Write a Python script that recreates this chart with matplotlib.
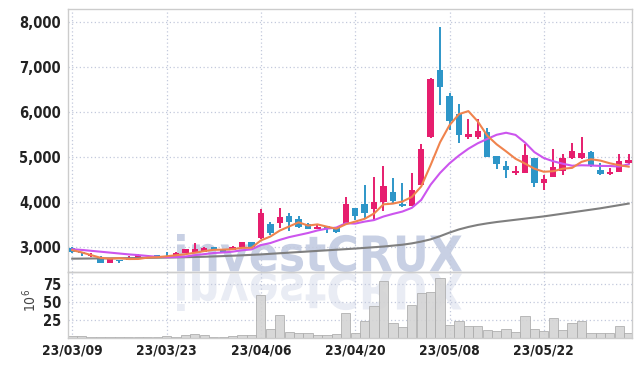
import numpy as np
import matplotlib
matplotlib.use('Agg')
import matplotlib.pyplot as plt
from matplotlib.ticker import FuncFormatter
from matplotlib.textpath import TextPath
from matplotlib.patches import PathPatch
from matplotlib.font_manager import FontProperties
from matplotlib.transforms import Affine2D, IdentityTransform

plt.rcParams['font.family'] = ['DejaVu Sans']
plt.rcParams['font.stretch'] = 'condensed'

# daily candles, 60 trading days
dates = ['23/03/09', '23/03/23', '23/04/06', '23/04/20', '23/05/08', '23/05/22']
date_idx = [0, 10, 20, 30, 40, 50]

opens = [2980, 2870, 2810, 2780, 2650, 2720, 2710, 2760, 2810, 2810,
         2800, 2820, 2870, 2880, 2880, 3000, 2930, 2930, 2990, 3100,
         3190, 3510, 3540, 3690, 3620, 3500, 3390, 3460, 3450, 3500,
         3860, 3950, 3840, 4000, 4230, 3955, 3910, 4380, 5440, 6930,
         6350, 5950, 5440, 5440, 5550, 5020, 4800, 4650, 4650, 4970,
         4430, 4550, 4690, 4970, 4970, 5110, 4720, 4620, 4670, 4860]
highs = [2990, 2880, 2870, 2790, 2760, 2720, 2800, 2840, 2820, 2820,
         2880, 2880, 2960, 3080, 3000, 3010, 2940, 3030, 3120, 3110,
         3840, 3560, 3870, 3750, 3690, 3540, 3480, 3470, 3450, 4120,
         3870, 4380, 4560, 4800, 4540, 4430, 4650, 5290, 6750, 7880,
         6425, 6170, 5835, 5835, 5635, 5030, 4920, 4800, 5290, 4980,
         4600, 5170, 5065, 5316, 5450, 5130, 4860, 4760, 5065, 5065]
lows = [2860, 2800, 2780, 2640, 2650, 2650, 2710, 2760, 2760, 2780,
        2760, 2820, 2870, 2880, 2880, 2930, 2880, 2930, 2990, 2990,
        3180, 3260, 3430, 3355, 3420, 3390, 3390, 3310, 3300, 3500,
        3600, 3630, 3600, 3800, 3960, 3890, 3900, 4380, 5430, 6150,
        5600, 5315, 5400, 5400, 4990, 4725, 4540, 4590, 4650, 4340,
        4265, 4550, 4600, 4960, 4960, 4780, 4600, 4610, 4660, 4840]
closes = [2880, 2860, 2820, 2640, 2760, 2680, 2760, 2830, 2790, 2800,
          2790, 2870, 2950, 2950, 2985, 2930, 2890, 3000, 3100, 2990,
          3750, 3320, 3660, 3560, 3450, 3390, 3450, 3410, 3330, 3950,
          3680, 3760, 4000, 4350, 4030, 3910, 4265, 5170, 6730, 6560,
          5810, 5490, 5510, 5575, 4990, 4840, 4710, 4690, 5040, 4420,
          4500, 4770, 4970, 5130, 5090, 4790, 4620, 4670, 4915, 4930]

ma5 = [2930, 2880, 2820, 2760, 2740, 2752, 2732, 2734, 2764, 2772,
       2794, 2816, 2840, 2872, 2909, 2937, 2941, 2951, 2981, 2982,
       3146, 3232, 3364, 3456, 3548, 3476, 3502, 3452, 3406, 3506,
       3564, 3626, 3744, 3948, 3964, 4010, 4111, 4345, 4821, 5327,
       5707, 5952, 6020, 5789, 5475, 5281, 5125, 4961, 4854, 4740,
       4672, 4684, 4740, 4758, 4892, 4950, 4920, 4860, 4817, 4785]
ma10 = [2950, 2935, 2915, 2895, 2875, 2855, 2835, 2820, 2800, 2782,
        2773, 2774, 2787, 2818, 2841, 2866, 2879, 2896, 2927, 2946,
        3042, 3087, 3158, 3219, 3265, 3311, 3367, 3408, 3431, 3527,
        3520, 3564, 3598, 3677, 3735, 3787, 3869, 4045, 4385, 4646,
        4859, 5032, 5183, 5305, 5401, 5494, 5539, 5491, 5322, 5108,
        4977, 4905, 4851, 4806, 4816, 4811, 4802, 4800, 4788, 4839]
ma60 = [2740, 2742, 2744, 2746, 2748, 2750, 2752, 2755, 2758, 2761,
        2765, 2769, 2773, 2778, 2783, 2790, 2798, 2806, 2815, 2825,
        2835, 2848, 2861, 2874, 2887, 2900, 2913, 2926, 2939, 2952,
        2965, 2980, 2995, 3010, 3030, 3050, 3080, 3120, 3170, 3240,
        3320, 3390, 3445, 3490, 3525, 3555, 3580, 3605, 3630, 3655,
        3680, 3710, 3740, 3770, 3800, 3830, 3860, 3895, 3930, 3965]

volume = [1.5, 1.5, 0.5, 0.5, 0.5, 0.5, 0.5, 0.5, 0.5, 0.5,
          1.5, 0.5, 4, 5.5, 3, 1, 1, 2, 3.5, 3.5,
          60, 12, 31, 7.5, 7, 7, 3, 3, 4.5, 34,
          6.5, 23, 43.6, 79, 21, 14.4, 46, 63, 64, 84,
          17.6, 22.7, 15.8, 15.8, 10.7, 8.8, 11.6, 7.5, 29.7, 11.6,
          8.8, 27, 10.2, 21, 22.7, 6, 6, 6, 15.8, 6]

UP = '#e61e6e'
DOWN = '#2e96c8'
GRID = '#c3c9dc'

W, H = 642, 366
fig = plt.figure(figsize=(W / 100, H / 100), dpi=100)
fig.patch.set_facecolor('white')
ax = fig.add_axes([68 / W, (H - 272) / H, 564 / W, 263 / H])
axv = fig.add_axes([68 / W, (H - 337.5) / H, 564 / W, 65.5 / H], sharex=ax)
for a in (ax, axv):
    a.set_facecolor('none')

# watermark + its reflection, placed in pixel coordinates
fp = FontProperties(family='DejaVu Sans', weight='bold', stretch='condensed')
tp = TextPath((0, 0), 'investCRUX', size=100, prop=fp)
ext = tp.get_extents()
sx = (462 - 177) / ext.width
sy = (272 - 234) / ext.height
t_main = (Affine2D().translate(-ext.x0, -ext.y0).scale(sx, sy)
          .translate(177, H - 272) + IdentityTransform())
t_refl = (Affine2D().translate(-ext.x0, -ext.y0).scale(sx, -sy)
          .translate(177, H - 273) + IdentityTransform())
fig.patches.append(PathPatch(tp, transform=t_main, facecolor='#c8d0e4',
                             edgecolor='none', zorder=-1))
fig.patches.append(PathPatch(tp, transform=t_refl, facecolor='#e9ecf4',
                             edgecolor='none', zorder=-1))

x = np.arange(len(closes))
o = np.array(opens)
c = np.array(closes)
colors = [UP if cc >= oo else DOWN for oo, cc in zip(o, c)]
body_lo = np.minimum(o, c)
body_h = np.maximum(np.abs(c - o), 18)

ax.vlines(x, lows, highs, colors=colors, linewidth=1.4, zorder=2)
ax.bar(x, body_h, bottom=body_lo, width=0.68, color=colors, zorder=3)

ax.plot(x, ma60, color='#7f7f7f', linewidth=1.5, zorder=4)
ax.plot(x, ma10, color='#cc55ee', linewidth=1.5, zorder=4)
ax.plot(x, ma5, color='#f0834d', linewidth=1.5, zorder=5)

axv.bar(x, volume, width=0.98, color='#d4d4d4', edgecolor='#aaaaaa',
        linewidth=0.6, alpha=0.9, zorder=2)

ax.set_xlim(-0.45, 59.35)
ax.set_ylim(2444, 8289)
axv.set_ylim(0, 92)

ax.set_yticks([3000, 4000, 5000, 6000, 7000, 8000])
ax.yaxis.set_major_formatter(FuncFormatter(lambda v, p: f'{int(v):,}'))
axv.set_yticks([25, 50, 75])
axv.set_xticks(date_idx)
axv.set_xticklabels(dates)
ax.tick_params(axis='x', labelbottom=False)

for a in (ax, axv):
    a.grid(True, color=GRID, linestyle=(0, (1, 2)), linewidth=0.9)
    a.set_axisbelow(True)
    a.tick_params(length=0, labelsize=10.5, colors='#222222', pad=5)
    for lab in a.get_xticklabels() + a.get_yticklabels():
        lab.set_fontweight('bold')
    for s in a.spines.values():
        s.set_color('#cccccc')
        s.set_linewidth(1)
axv.tick_params(axis='x', labelsize=9.8, pad=4)

fig.text(30 / W, 1 - 300 / H, r'$10^6$', rotation=90, ha='center',
         va='center', fontsize=10, color='#444444')

fig.savefig('out.png', dpi=100)
